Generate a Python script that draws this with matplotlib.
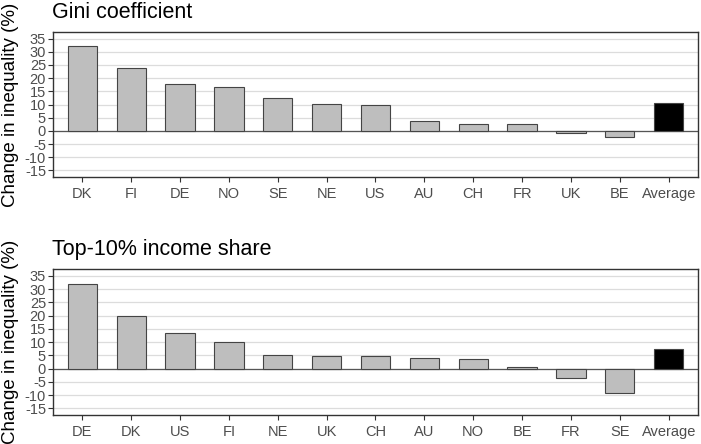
import matplotlib.pyplot as plt
import numpy as np

plt.rcParams['font.family'] = ['Liberation Sans', 'DejaVu Sans']

# Gini coefficient panel
gini_countries = ['DK', 'FI', 'DE', 'NO', 'SE', 'NE', 'US', 'AU', 'CH', 'FR', 'UK', 'BE', 'Average']
gini_change = [32.1, 24.0, 17.6, 16.5, 12.6, 10.1, 9.7, 3.7, 2.5, 2.5, -0.9, -2.3, 10.7]

# Top-10% income share panel
top10_countries = ['DE', 'DK', 'US', 'FI', 'NE', 'UK', 'CH', 'AU', 'NO', 'BE', 'FR', 'SE', 'Average']
top10_change = [32.1, 20.0, 13.5, 10.2, 5.2, 4.8, 4.6, 4.2, 3.5, 0.75, -3.5, -9.2, 7.3]

y_ticks = list(range(-15, 40, 5))

W, H = 701, 444
fig = plt.figure(figsize=(W / 100, H / 100), dpi=100)


def panel(rect, countries, values, title):
    ax = fig.add_axes(rect)
    x = np.arange(len(countries))
    colors = ['#BEBEBE'] * (len(countries) - 1) + ['black']
    for yt in y_ticks:
        ax.axhline(yt, color='#DCDCDC', lw=0.9, zorder=0)
    ax.axhline(0, color='#555555', lw=0.9, zorder=1)
    ax.bar(x, values, width=0.6, color=colors, edgecolor='#444444', linewidth=0.8, zorder=2)
    ax.set_xlim(-0.6, len(countries) - 0.4)
    ax.set_ylim(-17.5, 37.5)
    ax.set_yticks(y_ticks)
    ax.set_yticklabels([str(t) for t in y_ticks])
    ax.set_xticks(x)
    ax.set_xticklabels(countries)
    ax.tick_params(axis='both', colors='#333333', labelcolor='#4D4D4D', labelsize=10.5,
                   length=3.5, width=0.8, pad=2)
    ax.tick_params(axis='x', pad=4)
    ax.tick_params(axis='y', labelsize=10.5, pad=1.5)
    for sp in ax.spines.values():
        sp.set_color('#333333')
        sp.set_linewidth(1.0)
    ax.set_title(title, loc='left', fontsize=15.5, color='black', pad=10, x=-0.002)
    return ax


top = [32, 177]
bottom = [269.3, 415]
ax1 = panel([53 / W, 1 - top[1] / H, 645 / W, (top[1] - top[0]) / H],
            gini_countries, gini_change, 'Gini coefficient')
ax2 = panel([53 / W, 1 - bottom[1] / H, 645 / W, (bottom[1] - bottom[0]) / H],
            top10_countries, top10_change, 'Top-10% income share')

# each panel carries its own y label
for y0, y1 in (top, bottom):
    fig.text(11 / W, 1 - (y0 + y1) / 2 / H, 'Change in inequality (%)', rotation=90,
             ha='center', va='center', fontsize=13.5, color='black')

fig.savefig('out.png', dpi=100)
